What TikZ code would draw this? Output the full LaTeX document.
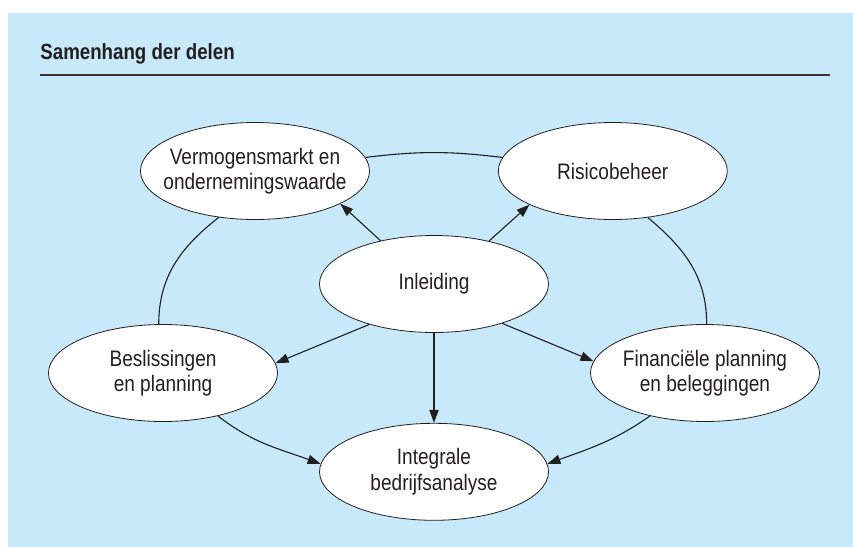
\documentclass[tikz,border=0pt]{standalone}
\usepackage{fontspec}
\setmainfont{Liberation Sans}[FakeStretch=0.85]
\usepackage{xcolor}
\usepackage{tikz}
\usetikzlibrary{shapes.geometric, arrows.meta, positioning}
\definecolor{panelblue}{RGB}{199,233,249}
\definecolor{ink}{RGB}{35,31,32}

\begin{document}
\begin{tikzpicture}[
    x=0.5pt, y=0.5pt,
    font=\fontsize{11.2}{12.6}\selectfont,
    >={Triangle[length=6.5pt, width=4.6pt]},
    part/.style={ellipse, draw=ink, fill=white, line width=0.4pt, minimum width=114.5pt, minimum height=48.5pt, inner xsep=-15pt, inner ysep=0pt, align=center, text=ink},
    link/.style={draw=ink, line width=0.55pt},
    arrow/.style={->, link},
]
    % Panel
    \fill[panelblue] (8,-13) rectangle (853,-547);
    \useasboundingbox (0,0) rectangle (853,-547);

    % Heading
    \node[anchor=base west, inner sep=0pt, font=\fontsize{11}{13}\selectfont\bfseries, text=ink] (title) at (40,-59) {Samenhang der delen};
    \coordinate (rule_l) at (40,-75);
    \coordinate (rule_r) at (830,-75);
    \draw[ink!90, line width=1pt] (rule_l) -- (rule_r);

    % Parts
    \node[part] (inleiding) at (434,-284) {Inleiding};
    \node[part] (vermogen) at (255,-171) {Vermogensmarkt en\\ondernemingswaarde};
    \node[part, right=64pt of vermogen] (risico) {Risicobeheer};
    \node[part] (beslissing) at (163,-373) {Beslissingen\\en planning};
    \node[part] (financieel) at (705,-373) {Financiële planning\\en beleggingen};
    \node[part, below=45pt of inleiding] (integraal) {Integrale\\bedrijfsanalyse};

    % Ring
    \draw[link] (vermogen.7) to[bend left=7] (risico.173);
    \draw[link] (vermogen.232) to[out=218, in=90] (beslissing.95);
    \draw[link] (risico.307) to[out=-40, in=90] (financieel.88);
    \draw[arrow] (beslissing.322) to[out=-38, in=160] (integraal.176);
    \draw[arrow] (financieel.218) to[out=215, in=20] (integraal.4);

    % From Inleiding
    \draw[arrow] (inleiding.141) -- (vermogen.339);
    \draw[arrow] (inleiding.38) -- (risico.202);
    \draw[arrow] (inleiding.212) -- (beslissing.5);
    \draw[arrow] (inleiding.330) -- (financieel.174);
    \draw[arrow] (inleiding) -- (integraal);

\end{tikzpicture}
\end{document}
